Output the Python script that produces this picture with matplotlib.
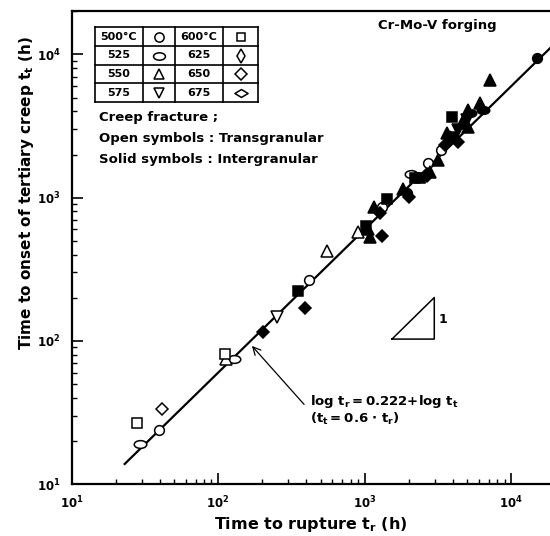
import numpy as np
import matplotlib
matplotlib.use("Agg")
import matplotlib.pyplot as plt
from matplotlib.path import Path
from matplotlib.lines import Line2D
from matplotlib.ticker import LogLocator, NullFormatter

plt.rcParams["font.family"] = "DejaVu Sans"
plt.rcParams["font.weight"] = "bold"
plt.rcParams["mathtext.fontset"] = "custom"
plt.rcParams["mathtext.rm"] = "DejaVu Sans:bold"
plt.rcParams["mathtext.it"] = "DejaVu Sans:bold"
plt.rcParams["mathtext.bf"] = "DejaVu Sans:bold"

# open symbols: transgranular fracture
tr_open = [29.3, 27.8, 41.1, 39.5, 112, 113, 128, 251, 419, 556, 904, 1306, 2070, 2717, 3305]
tt_open = [19.1, 26.5, 33.4, 23.7, 81, 74.5, 74.5, 146, 267, 427, 574, 857, 1463, 1754, 2153]
temp_open = [525, 600, 650, 500, 600, 550, 525, 575, 500, 550, 550, 500, 525, 500, 500]

# solid symbols: intergranular fracture
tr_solid = [203, 349, 392, 1020, 1086, 1050, 1306, 1156, 1270, 1413, 1832, 2013, 1940, 2200,
            2400, 2650, 2790, 3177, 3666, 4355, 4027, 3926, 4592, 5090, 5230, 6120, 6440,
            7160, 5090, 4966, 4355, 3819, 3530, 14960]
tt_solid = [115, 221, 169, 635, 535, 600, 541, 865, 778, 975, 1145, 1006, 1075, 1365,
            1380, 1416, 1517, 1833, 2812, 2460, 2600, 3670, 3304, 3130, 3880, 4600, 4100,
            6620, 4090, 3483, 2970, 2670, 2335, 9400]
temp_solid = [650, 600, 650, 600, 550, 550, 650, 550, 650, 600, 550, 650, 500, 600,
              600, 650, 550, 550, 550, 650, 575, 600, 550, 550, 525, 550, 525,
              550, 550, 575, 575, 550, 650, 500]

# fitted relation t_t = 0.6 * t_r
fit_ratio = 0.6
fit_tr = [23, 1.84e4]

temps = [500, 525, 550, 575, 600, 625, 650, 675]

ellipse = Path(Path.unit_circle().vertices * [1, 0.62], Path.unit_circle().codes)
flat_diamond = Path([(-1, 0), (0, 0.6), (1, 0), (0, -0.6), (-1, 0)],
                    [Path.MOVETO, Path.LINETO, Path.LINETO, Path.LINETO, Path.CLOSEPOLY])
markers = {500: ("o", 7), 525: (ellipse, 9), 550: ("^", 8), 575: ("v", 8),
           600: ("s", 6.5), 625: ("d", 8), 650: ("D", 6.5), 675: (flat_diamond, 10)}

W, H = 550, 536
fig = plt.figure(figsize=(W / 100, H / 100), dpi=100)
ax = fig.add_axes([71.7 / W, 52 / H, 1 - 71.7 / W, 473 / H])
ax.set_xscale("log")
ax.set_yscale("log")
ax.set_xlim(10, 1.84e4)
ax.set_ylim(10, 2.01e4)

ax.plot(fit_tr, [fit_ratio * v for v in fit_tr], color="black", lw=1.6, zorder=2)

for t in temps:
    m, ms = markers[t]
    xs = [x for x, k in zip(tr_open, temp_open) if k == t]
    ys = [y for y, k in zip(tt_open, temp_open) if k == t]
    if xs:
        ax.plot(xs, ys, ls="none", marker=m, ms=ms, mfc="white", mec="black", mew=1.1, zorder=3)
    xs = [x for x, k in zip(tr_solid, temp_solid) if k == t]
    ys = [y for y, k in zip(tt_solid, temp_solid) if k == t]
    if xs:
        ax.plot(xs, ys, ls="none", marker=m, ms=ms, mfc="black", mec="black", mew=1.1, zorder=4)

for s in ["left", "bottom", "top"]:
    ax.spines[s].set_linewidth(1.6)
ax.spines["right"].set_visible(False)
ax.xaxis.set_major_locator(LogLocator(base=10, numticks=10))
ax.yaxis.set_major_locator(LogLocator(base=10, numticks=10))
ax.xaxis.set_minor_formatter(NullFormatter())
ax.yaxis.set_minor_formatter(NullFormatter())
ax.tick_params(which="major", direction="in", length=8, width=1.2, labelsize=8.5, pad=8,
               top=False, right=False)
ax.tick_params(which="minor", direction="in", length=3.5, width=1.0, top=False, right=False)

ax.set_xlabel(r"Time to rupture $t_r$ (h)", fontsize=11.5, fontweight="bold")
ax.set_ylabel(r"Time to onset of tertiary creep $t_t$ (h)", fontsize=11, fontweight="bold")
ax.xaxis.set_label_coords(0.499, -0.085)
ax.xaxis.label.set_va("center")
ax.yaxis.set_label_coords(-0.094, 0.615)
ax.yaxis.label.set_va("center")

def fpx(x, y):
    return x / W, 1 - y / H

# legend table
x_cols = [95, 142.7, 175, 223.3, 258.3]
y_rows = [27.3, 46, 65, 83.3, 101.7]
for x in x_cols:
    fig.add_artist(Line2D([x / W] * 2, [1 - y_rows[0] / H, 1 - y_rows[-1] / H],
                          transform=fig.transFigure, color="black", lw=1.2))
for y in y_rows:
    fig.add_artist(Line2D([x_cols[0] / W, x_cols[-1] / W], [1 - y / H] * 2,
                          transform=fig.transFigure, color="black", lw=1.2))
for i in range(4):
    yc = (y_rows[i] + y_rows[i + 1]) / 2
    for j, t in enumerate([temps[i], temps[i + 4]]):
        label = f"{t}°C" if i == 0 else str(t)
        xl = (x_cols[2 * j] + x_cols[2 * j + 1]) / 2
        xm = (x_cols[2 * j + 1] + x_cols[2 * j + 2]) / 2
        fig.text(*fpx(xl, yc), label, ha="center", va="center", fontsize=8, fontweight="bold")
        m, ms = markers[t]
        fig.add_artist(Line2D([xm / W], [1 - yc / H], transform=fig.transFigure, ls="none",
                              marker=m, ms=ms * 0.95, mfc="white", mec="black", mew=1.1))

fig.text(*fpx(99, 118), "Creep fracture ;", ha="left", va="center", fontsize=9.5, fontweight="bold")
fig.text(*fpx(99, 139), "Open symbols : Transgranular", ha="left", va="center", fontsize=9.5,
         fontweight="bold")
fig.text(*fpx(99, 160), "Solid symbols : Intergranular", ha="left", va="center", fontsize=9.5,
         fontweight="bold")
fig.text(*fpx(497, 26), "Cr-Mo-V forging", ha="right", va="center", fontsize=9.5, fontweight="bold")

# slope triangle
tri_x = [1535, 2985, 2985, 1535]
tri_y = [102.8, 102.8, 200.5, 102.8]
ax.plot(tri_x, tri_y, color="black", lw=1.1)
ax.text(3400, 140, "1", ha="center", va="center", fontsize=9, fontweight="bold")

# fit annotation
ax.annotate("", xy=(165, 95.3), xytext=(397, 34.8),
            arrowprops=dict(arrowstyle="->", color="black", lw=0.9, mutation_scale=14))
fig.text(*fpx(310, 401), r"log $t_r$$=$0.222$+$log $t_t$", ha="left", va="center",
         fontsize=9.5, fontweight="bold")
fig.text(*fpx(310, 419), r"($t_t$$=$0.6 $\cdot$ $t_r$)", ha="left", va="center",
         fontsize=9.5, fontweight="bold")

fig.savefig("out.png", dpi=100)
